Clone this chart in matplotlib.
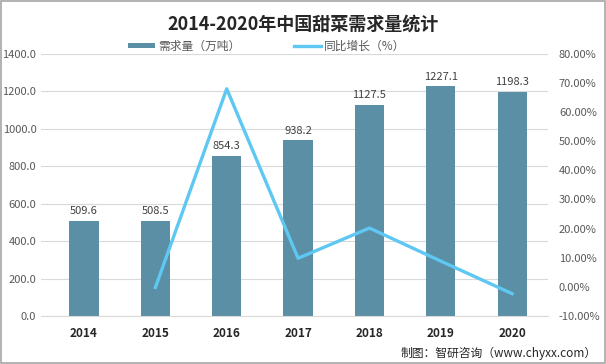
import matplotlib
matplotlib.use("Agg")
import matplotlib.pyplot as plt
from matplotlib.ticker import FuncFormatter
from matplotlib.patches import Patch

plt.rcParams['font.family'] = ['Noto Sans CJK SC', 'DejaVu Sans']

# 数据
anos = ["2014", "2015", "2016", "2017", "2018", "2019", "2020"]
demanda = [509.6, 508.5, 854.3, 938.2, 1127.5, 1227.1, 1198.3]
crescimento = [None, -0.22, 68.0, 9.82, 20.18, 8.83, -2.35]

fig = plt.figure(figsize=(6.06, 3.64), dpi=100)
fig.patch.set_facecolor("white")
ax = fig.add_axes([0.068, 0.132, 0.836, 0.72])
ax2 = ax.twinx()

x = list(range(len(anos)))
ax.bar(x, demanda, width=0.41, color="#5b8fa6", zorder=2)
for xi, v in zip(x, demanda):
    ax.text(xi, v + 25, f"{v:.1f}", ha="center", va="bottom", fontsize=8, color="#404040")

xs = [xi for xi, v in zip(x, crescimento) if v is not None]
ys = [v for v in crescimento if v is not None]
linha, = ax2.plot(xs, ys, color="#5ec8f2", linewidth=2.4, zorder=3)

ax.set_xlim(-0.6, 6.5)
ax.set_ylim(0, 1400)
ax.set_yticks(range(0, 1401, 200))
ax.yaxis.set_major_formatter(FuncFormatter(lambda v, p: f"{v:.1f}"))
ax2.set_ylim(-10, 80)
ax2.set_yticks(range(-10, 81, 10))
ax2.yaxis.set_major_formatter(FuncFormatter(lambda v, p: f"{v:.2f}%"))

ax.grid(axis="y", color="#d9d9d9", linewidth=0.8, zorder=0)
ax.set_axisbelow(True)
for a in (ax, ax2):
    for s in a.spines.values():
        s.set_visible(False)
    a.tick_params(length=0, labelsize=8, colors="#595959")
ax2.tick_params(axis="y", pad=8)
ax.spines["bottom"].set_visible(True)
ax.spines["bottom"].set_color("#d9d9d9")
ax.set_xticks(x)
ax.set_xticklabels(anos, fontweight="bold", color="#262626", fontsize=8.5)
ax.tick_params(axis="x", pad=8)

fig.text(0.5, 0.935, "2014-2020年中国甜菜需求量统计", ha="center", va="center",
         fontsize=13, fontweight="bold", color="#262626")

# legenda: barra achatada como no original
barra = Patch(facecolor="#5b8fa6")
leg = fig.legend([barra, linha], ["需求量（万吨）", "同比增长（%）"], loc="center",
                 bbox_to_anchor=(0.44, 0.873), ncol=2, frameon=False, fontsize=8.5,
                 handlelength=2.3, handleheight=0.35, handletextpad=0.3,
                 columnspacing=4.5, labelcolor="#595959")

fig.text(0.985, 0.03, "制图：智研咨询（www.chyxx.com）", ha="right", va="center",
         fontsize=8.5, color="#262626")

# borda cinza
fig.add_artist(plt.Rectangle((0.002, 0.003), 0.996, 0.994, transform=fig.transFigure,
                             fill=False, edgecolor="#a6a6a6", linewidth=1.2))

plt.savefig("out.png", dpi=100)
plt.close()
